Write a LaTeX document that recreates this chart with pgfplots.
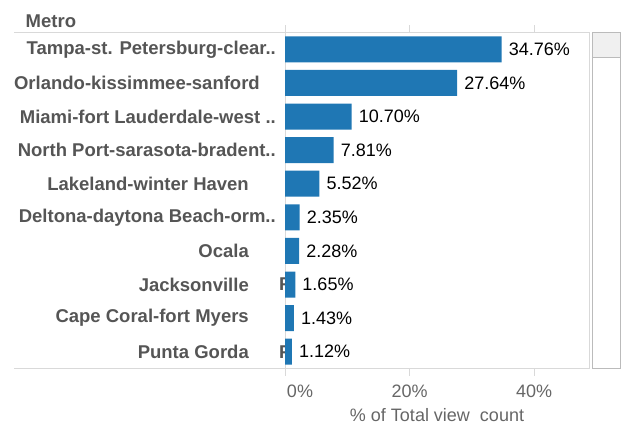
\documentclass[border=0pt]{standalone}
\usepackage{pgfplots}
\pgfplotsset{compat=1.18}
\usepackage{fontspec}
\setmainfont{Liberation Sans}
\definecolor{barblue}{HTML}{1F77B4}
\definecolor{lblgray}{HTML}{555555}
\definecolor{tickgray}{HTML}{666666}
\definecolor{linegray}{HTML}{D9D9D9}
\definecolor{sbgray}{HTML}{BBBBBB}
\newcommand{\lf}{\fontsize{18bp}{21bp}\selectfont}
\newcommand{\blf}{\fontsize{18.5bp}{21bp}\selectfont\bfseries}
\newcommand{\pad}[1]{\hspace{#1}\mbox{}}
\begin{document}
\begin{tikzpicture}[x=1bp,y=1bp]
\path[use as bounding box] (0,0) rectangle (623,425);
\draw[linegray, line width=1bp] (14,392.5) -- (589,392.5);
\draw[linegray, line width=1bp] (14,56.5) -- (589,56.5);
\node[anchor=base west, text=lblgray, font=\blf, inner sep=0pt] at (25.5,397) {Metro};
\draw[sbgray, line width=1.5bp, fill=white] (592.5,56.5) rectangle (620.5,392.5);
\draw[sbgray, line width=1.5bp, fill=black!6] (592.5,367.5) rectangle (620.5,392.5);
\begin{scope}
\clip (270,0) rectangle (285,425);
\node[anchor=west, text=lblgray, font=\blf, inner sep=0pt] at (279,140.5) {F};
\node[anchor=west, text=lblgray, font=\blf, inner sep=0pt] at (279,73.3) {F};
\end{scope}
\begin{axis}[
  at={(285bp,56.5bp)}, anchor=south west,
  scale only axis, width=304bp, height=336bp,
  xbar, bar width=26bp,
  xmin=0, xmax=48.8, ymin=0.5, ymax=10.5, y dir=reverse,
  axis line style={linegray, line width=1bp},
  /pgf/number format/assume math mode=true,
  ytick={1,2,3,4,5,6,7,8,9,10},
  yticklabels={
    {Tampa-st. Petersburg-clear..},
    {Orlando-kissimmee-sanford\pad{16bp}},
    {Miami-fort Lauderdale-west ..},
    {North Port-sarasota-bradent..},
    {Lakeland-winter Haven\pad{27bp}},
    {Deltona-daytona Beach-orm..},
    {Ocala\pad{27bp}},
    {Jacksonville\pad{27bp}},
    {Cape Coral-fort Myers\pad{27bp}},
    {Punta Gorda\pad{27bp}}},
  yticklabel style={anchor=east, inner sep=0pt, xshift=-2bp, text=lblgray, font=\blf},
  ytick style={draw=none},
  xtick={0,20,40},
  xticklabels={{\hspace{30bp}0\%},{20\%},{40\%}},
  tick align=outside,
  major tick length=7bp,
  xtick style={linegray, line width=1bp},
  xticklabel style={anchor=base, inner sep=0pt, yshift=-22bp, text=tickgray, font=\lf},
  nodes near coords={\pgfmathprintnumber[fixed,precision=2,fixed zerofill]{\pgfplotspointmeta}\%},
  point meta=x,
  nodes near coords style={anchor=west, inner sep=0pt, xshift=7bp, text=black, font=\lf},
  clip=false,
]
\addplot[fill=barblue, draw=none] coordinates {
  (34.76,1) (27.64,2) (10.70,3) (7.81,4) (5.52,5)
  (2.35,6) (2.28,7) (1.65,8) (1.43,9) (1.12,10)};
\node[anchor=base, text=tickgray, font=\lf, inner sep=0pt] at (axis description cs:0.5,0) [yshift=-53bp] {\% of Total view\ \ count};
\end{axis}
\end{tikzpicture}
\end{document}
